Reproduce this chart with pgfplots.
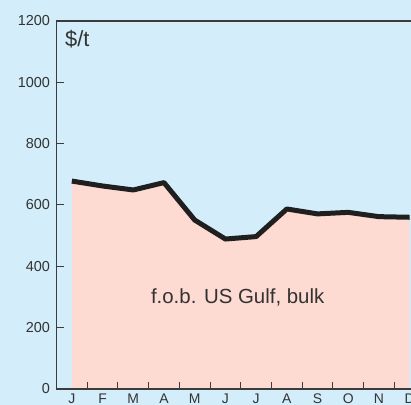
\documentclass[border=0pt]{standalone}
\usepackage{pgfplots}
\pgfplotsset{compat=1.18}
\usepackage{fontspec}
\setmainfont{Liberation Sans}
\definecolor{bgblue}{HTML}{D3EEFA}
\definecolor{pinkfill}{HTML}{FDDAD2}
\definecolor{axgray}{HTML}{3C3C3C}
\definecolor{lblgray}{HTML}{333333}
\begin{document}
\begin{tikzpicture}
\useasboundingbox (0,0) rectangle (411bp,405bp);
\fill[bgblue] (0,0) rectangle (411bp,405bp);
\clip (0,0) rectangle (411bp,405bp);
\begin{axis}[
  at={(56.5bp,16bp)}, anchor=south west,
  scale only axis, width=355bp, height=368bp,
  xmin=0.5, xmax=12.06, ymin=0, ymax=1200,
  axis line style={axgray, line width=1.3bp},
  axis on top,
  tick style={axgray, line width=1bp},
  tick align=inside, major tick length=7bp,
  xtick pos=bottom, ytick pos=left,
  xtick={1.5,2.5,...,11.5}, xticklabels={},
  extra x ticks={1,2,...,12},
  extra x tick labels={J,F,M,A,M,J,J,A,S,O,N,D},
  extra x tick style={major tick length=0pt, tick style={draw=none}},
  xticklabel style={font=\fontsize{14}{14}\selectfont, color=lblgray, yshift=-1bp},
  ytick={0,200,...,1200},
  yticklabels={0,200,400,600,800,1000,1200},
  yticklabel style={font=\fontsize{14.5}{14.5}\selectfont, color=lblgray, xshift=-3bp},
]
\addplot[fill=pinkfill, draw=none] coordinates {
 (1,678) (2,662) (3,649) (4,673) (5,551) (6,489) (7,497) (8,587) (9,571) (10,576) (11,562) (12,560)
} \closedcycle;
\addplot[line width=5bp, color=black!88, line join=round] coordinates {
 (1,678) (2,662) (3,649) (4,673) (5,551) (6,489) (7,497) (8,587) (9,571) (10,576) (11,562) (12,560)
};
\node[anchor=base west, inner sep=0, font=\fontsize{22}{22}\selectfont, color=lblgray] at (axis cs:0.777,1118) {\$/t};
\node[anchor=center, inner sep=0, font=\fontsize{20.5}{20.5}\selectfont, color=lblgray] at (axis cs:6.4,300) {f.o.b. US Gulf, bulk};
\end{axis}
\end{tikzpicture}
\end{document}
